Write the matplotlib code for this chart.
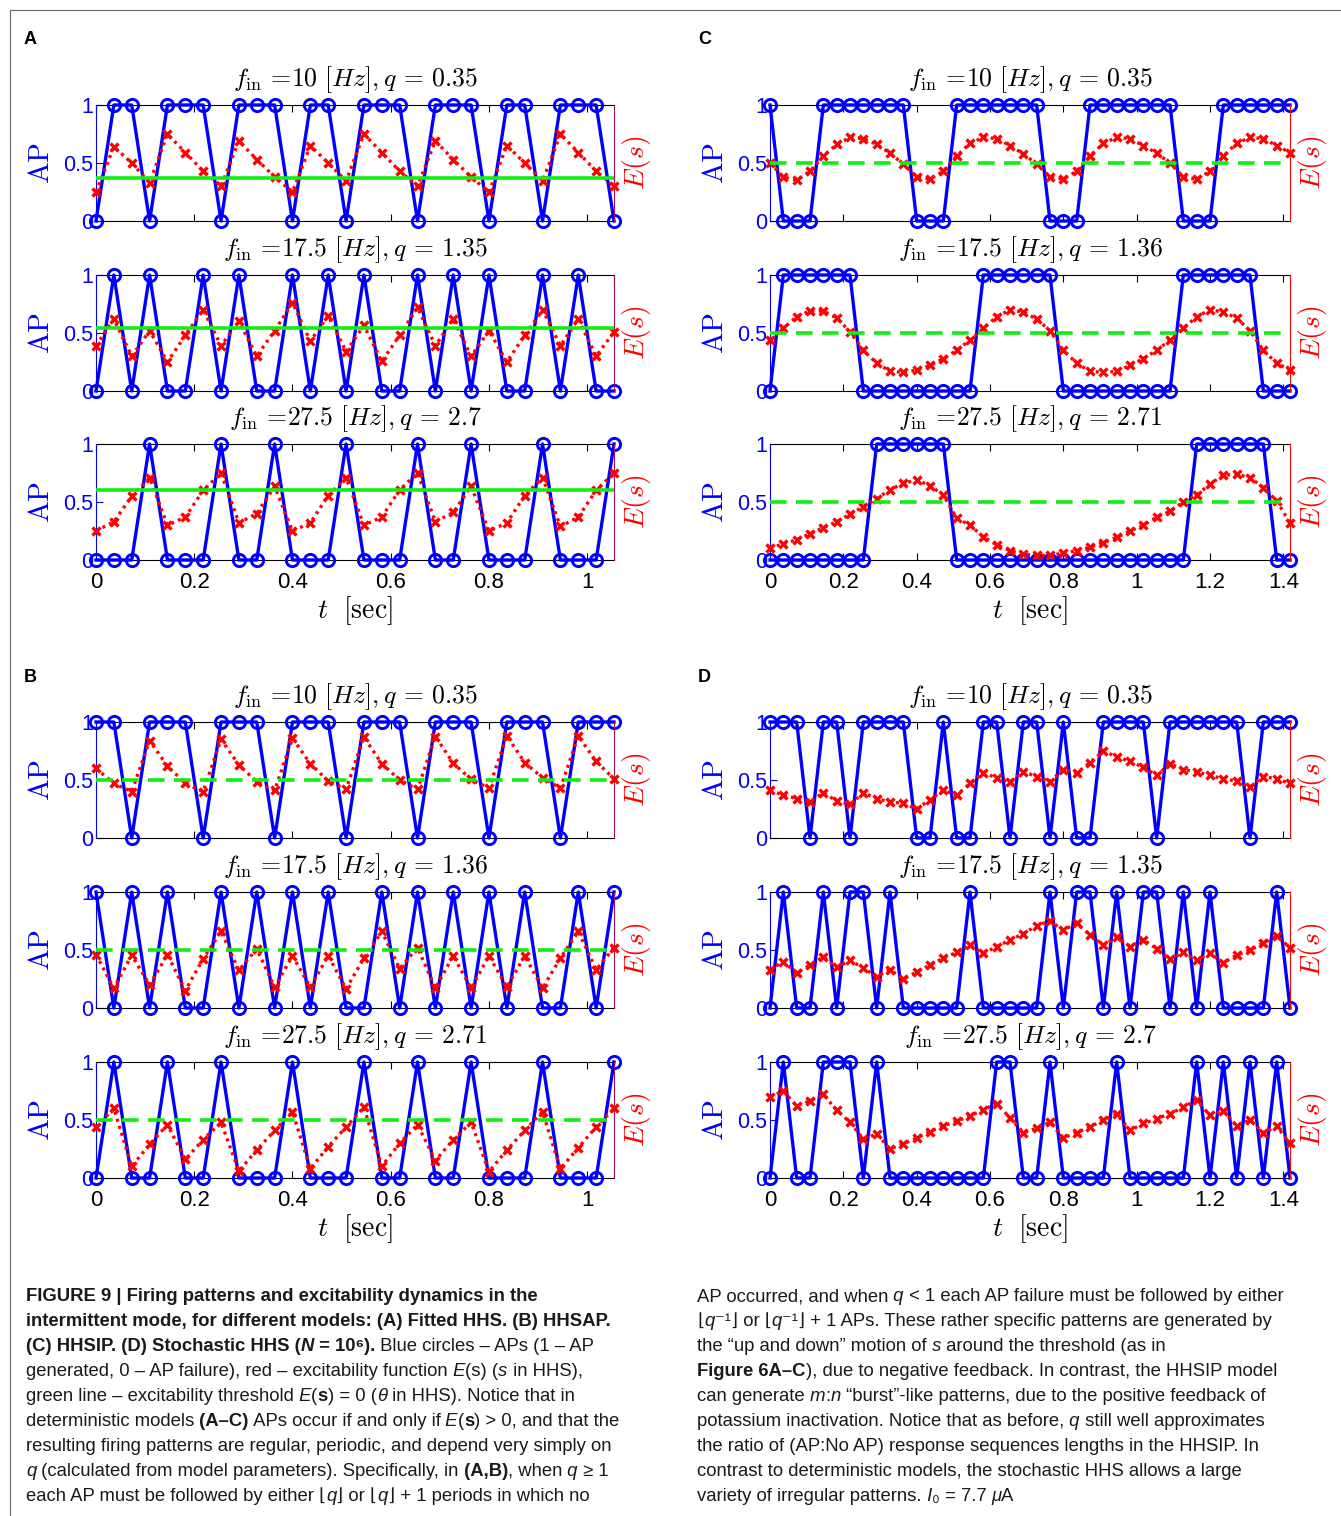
import matplotlib
matplotlib.use('Agg')
import matplotlib.pyplot as plt
from matplotlib.lines import Line2D

plt.rcParams['mathtext.fontset'] = 'cm'
plt.rcParams['font.family'] = ['Liberation Sans', 'DejaVu Sans']

W, H = 1341, 1516
DT = 1 / 27.5  # time between stimulus pulses [sec]

# ---------------- data ----------------
A1_ap = [0,1,1,0,1,1,1,0,1,1,1,0,1,1,0,1,1,1,0,1,1,1,0,1,1,0,1,1,1,0]
A1_E = [0.25,0.64,0.50,0.33,0.75,0.59,0.43,0.30,0.69,0.53,0.38,0.25,0.65,0.50,0.345,
        0.75,0.59,0.43,0.30,0.69,0.53,0.38,0.25,0.65,0.50,0.345,0.75,0.59,0.43,0.30]
A2_ap = [0,1,0,1,0,0,1,0,1,0,0,1,0,1,0,1,0,0,1,0,1,0,1,0,0,1,0,1,0,0]
A2_E = [0.39,0.62,0.30,0.52,0.25,0.48,0.70,0.39,0.60,0.30,0.52,0.76,0.43,0.65,0.34,
        0.565,0.255,0.48,0.72,0.39,0.62,0.30,0.52,0.25,0.48,0.70,0.39,0.62,0.30,0.51]
A3_ap = [0,0,0,1,0,0,0,1,0,0,1,0,0,0,1,0,0,0,1,0,0,1,0,0,0,1,0,0,0,1]
A3_E = [0.25,0.33,0.55,0.71,0.30,0.37,0.60,0.75,0.32,0.40,0.635,0.25,0.32,0.555,0.71,
        0.30,0.37,0.605,0.75,0.33,0.41,0.635,0.25,0.32,0.555,0.71,0.29,0.37,0.60,0.75]
A_thr = [0.374, 0.545, 0.60]
A_fin = ['10', '17.5', '27.5']
A_q = ['0.35', '1.35', '2.7']

B1_ap = [1,1,0,1,1,1,0,1,1,1,0,1,1,1,0,1,1,1,0,1,1,1,0,1,1,1,0,1,1,1]
B1_E = [0.60,0.47,0.40,0.84,0.62,0.47,0.40,0.85,0.63,0.485,0.41,0.86,0.64,0.49,0.42,
        0.87,0.64,0.50,0.42,0.875,0.645,0.505,0.43,0.88,0.65,0.52,0.43,0.88,0.66,0.51]
B2_ap = [1,0,1,0,1,0,0,1,0,1,0,1,0,1,0,0,1,0,1,0,1,0,1,0,1,0,0,1,0,1]
B2_E = [0.46,0.17,0.455,0.20,0.46,0.15,0.425,0.66,0.325,0.51,0.18,0.45,0.18,0.45,0.165,
        0.43,0.66,0.34,0.52,0.17,0.45,0.17,0.45,0.18,0.45,0.17,0.43,0.66,0.33,0.52]
B3_ap = [0,1,0,0,1,0,0,1,0,0,0,1,0,0,0,1,0,0,1,0,0,1,0,0,0,1,0,0,0,1]
B3_E = [0.44,0.60,0.10,0.29,0.46,0.16,0.33,0.48,0.06,0.24,0.41,0.57,0.08,0.27,0.44,
        0.61,0.10,0.30,0.46,0.15,0.33,0.48,0.055,0.24,0.41,0.57,0.08,0.26,0.44,0.60]
B_thr = [0.5, 0.5, 0.5]
B_fin = ['10', '17.5', '27.5']
B_q = ['0.35', '1.36', '2.71']

C1_ap = [1,0,0,0,1,1,1,1,1,1,1,0,0,0,1,1,1,1,1,1,1,0,0,0,1,1,1,1,1,1,1,0,0,0,1,1,1,1,1,1]
C1_E = [0.50,0.38,0.35,0.43,0.56,0.66,0.72,0.71,0.66,0.585,0.49,0.38,0.36,0.43,0.56,
        0.67,0.72,0.71,0.65,0.58,0.49,0.38,0.36,0.43,0.56,0.67,0.72,0.71,0.65,0.585,
        0.50,0.38,0.36,0.43,0.56,0.67,0.72,0.71,0.65,0.59]
C2_ap = [0,1,1,1,1,1,1,0,0,0,0,0,0,0,0,0,1,1,1,1,1,1,0,0,0,0,0,0,0,0,0,1,1,1,1,1,1,0,0,0]
C2_E = [0.44,0.54,0.64,0.69,0.69,0.63,0.51,0.35,0.24,0.17,0.16,0.18,0.22,0.28,0.35,
        0.44,0.54,0.64,0.70,0.68,0.62,0.52,0.35,0.24,0.17,0.16,0.17,0.22,0.28,0.35,
        0.44,0.54,0.64,0.70,0.68,0.63,0.52,0.35,0.24,0.18]
C3_ap = [0,0,0,0,0,0,0,0,1,1,1,1,1,1,0,0,0,0,0,0,0,0,0,0,0,0,0,0,0,0,0,0,1,1,1,1,1,1,0,0]
C3_E = [0.10,0.14,0.175,0.225,0.28,0.33,0.395,0.46,0.53,0.605,0.66,0.69,0.64,0.56,0.36,
        0.30,0.20,0.13,0.08,0.05,0.04,0.04,0.06,0.08,0.11,0.15,0.195,0.25,0.30,0.37,
        0.42,0.50,0.56,0.655,0.73,0.74,0.71,0.625,0.51,0.32]
C_thr = [0.5, 0.5, 0.5]
C_fin = ['10', '17.5', '27.5']
C_q = ['0.35', '1.36', '2.71']

D1_ap = [1,1,1,0,1,1,0,1,1,1,1,0,0,1,0,0,1,1,0,1,1,0,1,0,0,1,1,1,1,0,1,1,1,1,1,1,0,1,1,1]
D1_E = [0.41,0.37,0.34,0.31,0.39,0.32,0.29,0.39,0.34,0.31,0.30,0.25,0.33,0.41,0.37,
        0.47,0.56,0.52,0.485,0.57,0.53,0.485,0.59,0.56,0.65,0.75,0.70,0.66,0.61,0.54,
        0.64,0.59,0.57,0.54,0.51,0.49,0.44,0.53,0.51,0.47]
D2_ap = [0,1,0,0,1,0,1,1,0,1,0,0,0,0,0,1,0,0,0,0,0,1,0,1,1,0,1,0,1,1,0,1,0,1,0,0,0,0,1,0]
D2_E = [0.33,0.40,0.30,0.37,0.44,0.35,0.41,0.345,0.27,0.33,0.25,0.31,0.37,0.43,0.48,
        0.54,0.47,0.53,0.585,0.64,0.71,0.75,0.67,0.73,0.63,0.54,0.61,0.53,0.59,0.51,
        0.42,0.48,0.41,0.47,0.39,0.455,0.50,0.56,0.62,0.52]
D3_ap = [0,1,0,0,1,1,1,0,1,0,0,0,0,0,0,0,0,1,1,0,0,1,0,0,0,0,1,0,0,0,0,0,1,0,1,0,1,0,1,0]
D3_E = [0.70,0.75,0.62,0.665,0.72,0.585,0.48,0.335,0.38,0.25,0.295,0.345,0.40,0.45,0.49,
        0.535,0.59,0.64,0.52,0.39,0.43,0.48,0.345,0.39,0.44,0.50,0.55,0.41,0.47,0.51,
        0.555,0.61,0.67,0.54,0.58,0.45,0.50,0.39,0.445,0.30]
D_thr = [None, None, None]
D_fin = ['10', '17.5', '27.5']
D_q = ['0.35', '1.35', '2.7']

AB_ticks = [0, 0.2, 0.4, 0.6, 0.8, 1.0]
AB_ticklabels = ['0', '0.2', '0.4', '0.6', '0.8', '1']
CD_ticks = [0, 0.2, 0.4, 0.6, 0.8, 1.0, 1.2, 1.4]
CD_ticklabels = ['0', '0.2', '0.4', '0.6', '0.8', '1', '1.2', '1.4']

# ---------------- figure ----------------
fig = plt.figure(figsize=(W / 100, H / 100), dpi=100)

# thin outer frame (top and left)
fig.add_artist(Line2D([10 / W, 10 / W, 1.0], [0.0, 1 - 10 / H, 1 - 10 / H],
                      transform=fig.transFigure, color='#666666', lw=0.8))

BLUE = '#0000ff'
RED = '#ff0000'
GREEN = '#11ee11'


def panel(label, lx, ly, left_px, width_px, tops, aps, Es, thr, fins, qs, ticks,
          ticklabels, thr_style, rspine):
    fig.text(lx / W, 1 - ly / H, label, fontsize=13, fontweight='bold',
             ha='left', va='center')
    for k in range(3):
        top = tops[k]
        ax = fig.add_axes([left_px / W, 1 - (top + 116) / H, width_px / W, 116 / H])
        n = len(aps[k])
        t = [i * DT for i in range(n)]
        ax.plot(t, aps[k], '-o', color=BLUE, lw=2.4, ms=8.8, mfc='none', mew=2.1,
                clip_on=False, zorder=3)
        ax.set_xlim(0, (n - 1) * DT)
        ax.set_ylim(0, 1)
        ax.set_yticks([0, 0.5, 1])
        ax.set_yticklabels(['0', '0.5', '1'])
        ax.tick_params(axis='y', colors=BLUE, labelsize=15.5, direction='in', left=True,
                       right=True, length=5, pad=2)
        ax.set_xticks(ticks)
        if k == 2:
            ax.set_xticklabels(ticklabels)
            ax.set_xlabel(r'$t\ \ [\mathrm{sec}]$', fontsize=20, labelpad=0.5)
        else:
            ax.set_xticklabels([])
        ax.tick_params(axis='x', direction='in', top=True, bottom=True, length=5,
                       labelsize=16, pad=9)
        ax.spines['left'].set_color(BLUE)
        ax.spines['right'].set_visible(False)
        ax.set_ylabel(r'$\mathrm{AP}$', color=BLUE, fontsize=21, labelpad=6)
        ax.set_title(r'$f_{\rm in}\, =\!%s\ [Hz], q\,=\,%s$' % (fins[k], qs[k]),
                     fontsize=18.5, pad=13.5)

        ax2 = ax.twinx()
        ax2.set_ylim(0, 1)
        ax2.set_yticks([])
        for s in ['left', 'top', 'bottom']:
            ax2.spines[s].set_visible(False)
        ax2.spines['right'].set_color(rspine)
        ax2.plot(t, Es[k], color=RED, ls=(0, (0.9, 1.3)), lw=2.4, marker='x', ms=6.2,
                 mew=2.4, clip_on=False, zorder=3)
        if thr[k] is not None:
            if thr_style == 'solid':
                ax2.axhline(thr[k], color=GREEN, lw=2.6, zorder=4)
            else:
                ax2.axhline(thr[k], color=GREEN, lw=2.6, dashes=(4.6, 2.6), zorder=4)
        ax2.set_ylabel(r'$E(s)$', color=RED, fontsize=20, rotation=90, labelpad=4)


rows_top = [105, 275, 444]
rows_bot = [722, 892, 1062]
panel('A', 24, 40, 96, 518, rows_top, [A1_ap, A2_ap, A3_ap], [A1_E, A2_E, A3_E], A_thr,
      A_fin, A_q, AB_ticks, AB_ticklabels, 'solid', '#a0105a')
panel('B', 24, 678, 96, 518, rows_bot, [B1_ap, B2_ap, B3_ap], [B1_E, B2_E, B3_E], B_thr,
      B_fin, B_q, AB_ticks, AB_ticklabels, 'dashed', '#a0105a')
panel('C', 698, 40, 770, 520, rows_top, [C1_ap, C2_ap, C3_ap], [C1_E, C2_E, C3_E], C_thr,
      C_fin, C_q, CD_ticks, CD_ticklabels, 'dashed', RED)
panel('D', 698, 678, 770, 520, rows_bot, [D1_ap, D2_ap, D3_ap], [D1_E, D2_E, D3_E], D_thr,
      D_fin, D_q, CD_ticks, CD_ticklabels, 'dashed', RED)

# ---------------- caption ----------------
left_lines = [
    [('FIGURE 9 | Firing patterns and excitability dynamics in the', 'b')],
    [('intermittent mode, for different models: (A) Fitted HHS. (B) HHSAP.', 'b')],
    [('(C) HHSIP. (D) Stochastic HHS (', 'b'), ('N', 'bi'), (' = 10\u2076).', 'b'),
     (' Blue circles \u2013 APs (1 \u2013 AP', 'n')],
    [('generated, 0 \u2013 AP failure), red \u2013 excitability function', 'n'), (' E', 'i'),
     ('(s) (', 'n'), ('s', 'i'), (' in HHS),', 'n')],
    [('green line \u2013 excitability threshold', 'n'), (' E', 'i'), ('(', 'n'), ('s', 'b'),
     (') = 0 (', 'n'), ('\u03b8', 'i'), (' in HHS). Notice that in', 'n')],
    [('deterministic models', 'n'), (' (A\u2013C)', 'b'), (' APs occur if and only if', 'n'),
     (' E', 'i'), ('(', 'n'), ('s', 'b'), (') > 0, and that the', 'n')],
    [('resulting firing patterns are regular, periodic, and depend very simply on', 'n')],
    [('q', 'i'), (' (calculated from model parameters). Specifically, in', 'n'),
     (' (A,B)', 'b'), (', when', 'n'), (' q', 'i'), (' \u2265 1', 'n')],
    [('each AP must be followed by either \u230a', 'n'), ('q', 'i'), ('\u230b or \u230a', 'n'),
     ('q', 'i'), ('\u230b + 1 periods in which no', 'n')],
]
right_lines = [
    [('AP occurred, and when', 'n'), (' q', 'i'),
     (' < 1 each AP failure must be followed by either', 'n')],
    [('\u230a', 'n'), ('q', 'i'), ('\u207b\u00b9\u230b or \u230a', 'n'), ('q', 'i'),
     ('\u207b\u00b9\u230b + 1 APs. These rather specific patterns are generated by', 'n')],
    [('the \u201cup and down\u201d motion of', 'n'), (' s', 'i'),
     (' around the threshold (as in', 'n')],
    [('Figure 6A\u2013C', 'b'), ('), due to negative feedback. In contrast, the HHSIP model', 'n')],
    [('can generate', 'n'), (' m', 'i'), (':', 'n'), ('n', 'i'),
     (' \u201cburst\u201d-like patterns, due to the positive feedback of', 'n')],
    [('potassium inactivation. Notice that as before,', 'n'), (' q', 'i'),
     (' still well approximates', 'n')],
    [('the ratio of (AP:No AP) response sequences lengths in the HHSIP. In', 'n')],
    [('contrast to deterministic models, the stochastic HHS allows a large', 'n')],
    [('variety of irregular patterns.', 'n'), (' I', 'i'), ('\u2080', 'n'),
     (' = 7.7 ', 'n'), ('\u03bc', 'i'), ('A', 'n')],
]

renderer = fig.canvas.get_renderer()
CAP_SIZE = 13.3


def draw_line(x_px, y_px, segs):
    x = x_px / W
    for s, st in segs:
        kw = dict(fontsize=CAP_SIZE, ha='left', va='baseline', color='#1a1a1a')
        if 'b' in st:
            kw['fontweight'] = 'bold'
        if 'i' in st:
            kw['fontstyle'] = 'italic'
        txt = fig.text(x, 1 - y_px / H, s, **kw)
        bb = txt.get_window_extent(renderer=renderer)
        x += bb.width / W


for i, segs in enumerate(left_lines):
    draw_line(26, 1301 + 25 * i, segs)
for i, segs in enumerate(right_lines):
    draw_line(697, 1301 + 25 * i, segs)

fig.savefig('out.png', dpi=100)
